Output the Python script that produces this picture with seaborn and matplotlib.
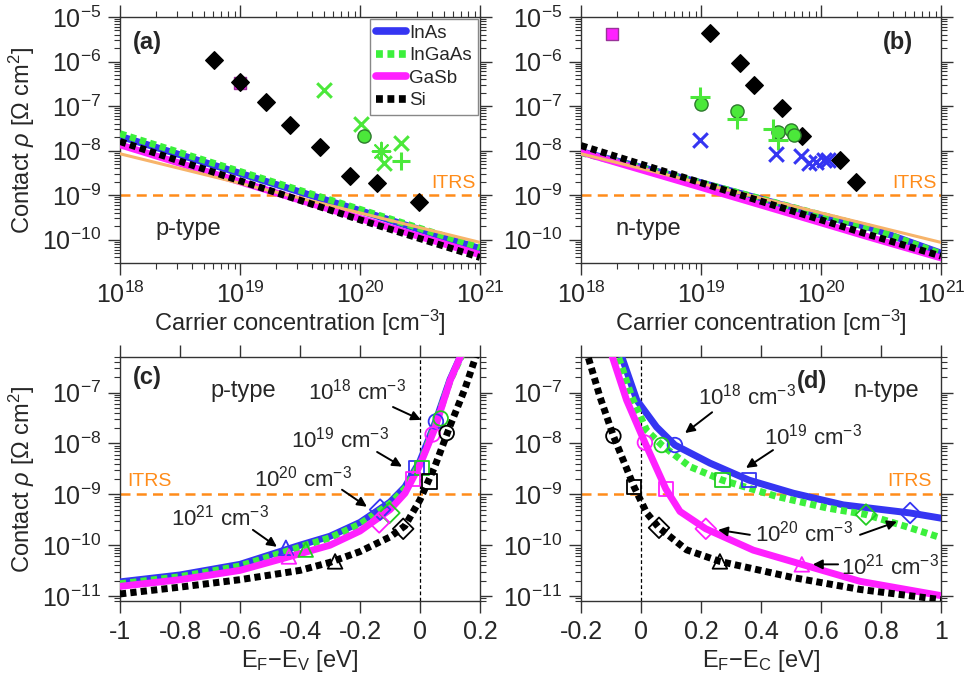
import numpy as np
import matplotlib
matplotlib.use("Agg")
import matplotlib.pyplot as plt
import matplotlib.ticker as mticker
from matplotlib.lines import Line2D
import seaborn as sns

# ---------------- data ----------------
# (a) p-type / (b) n-type : contact resistivity vs carrier concentration
conc = [1e18, 1e19, 1e20, 1e21]
a_inas = [2.1e-8, 3.1e-9, 4.5e-10, 6.3e-11]
a_ingaas = [2.4e-8, 3.4e-9, 4.8e-10, 6.7e-11]
a_gasb = [1.35e-8, 2.0e-9, 3.0e-10, 4.6e-11]
a_si = [1.6e-8, 2.1e-9, 2.8e-10, 4.0e-11]
ref_line = [8.5e-9, 1.85e-9, 4.0e-10, 8.7e-11]

conc_n = [1e18, 1e19, 1e20, 2.5e20, 1e21]
b_inas = [9.5e-9, 1.9e-9, 3.5e-10, 1.9e-10, 5.0e-11]
b_ingaas = [9.0e-9, 1.9e-9, 3.6e-10, 1.9e-10, 4.8e-11]
b_gasb = [9.3e-9, 1.5e-9, 2.4e-10, 1.15e-10, 3.9e-11]
b_si = [1.3e-8, 1.9e-9, 2.8e-10, 1.3e-10, 4.3e-11]

# experimental points (a)
a_si_x = [6.1e18, 1.0e19, 1.66e19, 2.6e19, 4.6e19, 8.2e19, 1.38e20, 3.1e20]
a_si_y = [1.1e-6, 3.5e-7, 1.25e-7, 3.7e-8, 1.2e-8, 2.7e-9, 1.9e-9, 7.0e-10]
a_gasb_x, a_gasb_y = [1.0e19], [3.3e-7]
a_ig_cross_x = [5e19, 1.02e20, 2.2e20, 1.6e20]
a_ig_cross_y = [2.3e-7, 4e-8, 1.45e-8, 5.2e-9]
a_ig_circ_x, a_ig_circ_y = [1.07e20], [2.1e-8]
a_ig_star_x, a_ig_star_y = [1.5e20], [1.0e-8]
a_ig_plus_x, a_ig_plus_y = [2.2e20], [5.7e-9]

# experimental points (b)
b_si_x = [1.18e19, 2.1e19, 2.75e19, 4.7e19, 7e19, 1.45e20, 1.95e20]
b_si_y = [4.3e-6, 9.5e-7, 2.9e-7, 8.9e-8, 2.1e-8, 6.3e-9, 1.95e-9]
b_gasb_x, b_gasb_y = [1.8e18], [4.1e-6]
b_ig_plus_x = [9.8e18, 2e19, 4e19, 4.4e19]
b_ig_plus_y = [1.6e-7, 5e-8, 3.1e-8, 1.7e-8]
b_ig_circ_x = [1e19, 2e19, 4.4e19, 5.6e19, 5.9e19]
b_ig_circ_y = [1.1e-7, 7.8e-8, 2.6e-8, 2.9e-8, 2.2e-8]
b_inas_cross_x = [9.8e18, 4.2e19, 6.8e19, 8e19, 9e19, 1.05e20, 1.15e20]
b_inas_cross_y = [1.7e-8, 8.5e-9, 7.5e-9, 5.2e-9, 5.5e-9, 6.3e-9, 6.3e-9]

# (c) p-type vs EF-EV
c_E = [-1.0, -0.8, -0.6, -0.4, -0.3, -0.2, -0.1, -0.05, 0.0, 0.05, 0.1, 0.14]
c_inas = [1.9e-11, 2.6e-11, 4.2e-11, 1.0e-10, 1.5e-10, 2.8e-10, 7.0e-10, 1.4e-9, 4.5e-9, 2.5e-8, 1.8e-7, 6e-7]
c_ingaas = [1.75e-11, 2.4e-11, 3.9e-11, 9.2e-11, 1.4e-10, 2.6e-10, 6.5e-10, 1.3e-9, 4.0e-9, 2.2e-8, 1.7e-7, 5.5e-7]
c_gasb = [1.55e-11, 2.1e-11, 3.2e-11, 6.8e-11, 1.0e-10, 1.9e-10, 5.0e-10, 1.05e-9, 3.8e-9, 2.0e-8, 1.7e-7, 6e-7]
c_E_si = [-1.0, -0.8, -0.6, -0.4, -0.3, -0.2, -0.1, -0.05, 0.0, 0.05, 0.1, 0.15, 0.19]
c_si = [1.1e-11, 1.5e-11, 2.1e-11, 3.2e-11, 4.6e-11, 7.5e-11, 1.45e-10, 2.4e-10, 7.8e-10, 3.6e-9, 2.2e-8, 1.2e-7, 6e-7]

# markers: 1e18 (o), 1e19 (s), 1e20 (D), 1e21 (^)
c_inas_mE, c_inas_mR = [0.053, -0.011, -0.133, -0.447], [2.7e-8, 3.3e-9, 5.0e-10, 8.9e-11]
c_ingaas_mE, c_ingaas_mR = [0.069, 0.006, -0.102, -0.381], [3.1e-8, 3.3e-9, 4.3e-10, 8.2e-11]
c_gasb_mE, c_gasb_mR = [0.042, -0.024, -0.136, -0.437], [1.5e-8, 2.0e-9, 2.8e-10, 6.0e-11]
c_si_mE, c_si_mR = [0.089, 0.031, -0.056, -0.283], [1.6e-8, 1.8e-9, 2.1e-10, 4.8e-11]

# (d) n-type vs EF-EC
d_inas_E = [-0.075, -0.014, 0.052, 0.113, 0.23, 0.36, 0.508, 0.674, 0.897, 1.0]
d_inas = [7.7e-7, 7.1e-8, 2.1e-8, 9.3e-9, 4.1e-9, 1.9e-9, 1.05e-9, 6.2e-10, 4.3e-10, 3.4e-10]
d_ingaas_E = [-0.085, -0.031, 0.019, 0.069, 0.163, 0.271, 0.452, 0.619, 0.75, 0.886, 1.0]
d_ingaas = [7.5e-7, 8.3e-8, 1.8e-8, 9.3e-9, 3.5e-9, 1.9e-9, 9.1e-10, 5.4e-10, 4.0e-10, 2.3e-10, 1.4e-10]
d_gasb_E = [-0.105, -0.048, 0.013, 0.083, 0.13, 0.216, 0.374, 0.536, 0.73, 1.0]
d_gasb = [7.5e-7, 7.1e-8, 1.04e-8, 1.27e-9, 4.6e-10, 2.1e-10, 8.0e-11, 4.2e-11, 1.95e-11, 1.02e-11]
d_si_E = [-0.185, -0.137, -0.092, -0.023, 0.019, 0.06, 0.152, 0.263, 0.508, 0.73, 1.0]
d_si = [7.5e-7, 8.3e-8, 1.4e-8, 1.4e-9, 4.3e-10, 2.2e-10, 8.1e-11, 4.8e-11, 2.3e-11, 1.35e-11, 8.5e-12]

d_inas_mE, d_inas_mR = [0.113, 0.36, 0.897], [9.3e-9, 1.9e-9, 4.3e-10]
d_ingaas_mE, d_ingaas_mR = [0.069, 0.271, 0.75], [9.3e-9, 1.9e-9, 4.0e-10]
d_gasb_mE, d_gasb_mR = [0.013, 0.083, 0.216, 0.536], [1.04e-8, 1.27e-9, 2.1e-10, 4.2e-11]
d_si_mE, d_si_mR = [-0.092, -0.023, 0.06, 0.263], [1.4e-8, 1.4e-9, 2.2e-10, 4.8e-11]

level_markers = ["o", "s", "D", "^"]
legend_labels = ["InAs", "InGaAs", "GaSb", "Si"]
top_xticks = [1e18, 1e19, 1e20, 1e21]
top_yticks = [1e-10, 1e-9, 1e-8, 1e-7, 1e-6, 1e-5]
bot_yticks = [1e-11, 1e-10, 1e-9, 1e-8, 1e-7]
c_xticks = [-1, -0.8, -0.6, -0.4, -0.2, 0, 0.2]
c_xlabels = ["-1", "-0.8", "-0.6", "-0.4", "-0.2", "0", "0.2"]
d_xticks = [-0.2, 0, 0.2, 0.4, 0.6, 0.8, 1]
d_xlabels = ["-0.2", "0", "0.2", "0.4", "0.6", "0.8", "1"]

# ---------------- style ----------------
BLUE = "#3535f2"
GREEN = "#3cf03c"
MAGENTA = "#ff20ff"
ITRS_C = "#ff8c1a"
LIGHT_OR = "#f7b46a"
EXP_GREEN = "#4be83a"
DOT = (0, (0.9, 0.6))

sns.set_style("ticks")
plt.rcParams["font.family"] = ["Liberation Sans", "DejaVu Sans"]
plt.rcParams["mathtext.fontset"] = "custom"
plt.rcParams["mathtext.rm"] = "Liberation Sans"
plt.rcParams["mathtext.it"] = "Liberation Sans:italic"
plt.rcParams["mathtext.bf"] = "Liberation Sans:bold"
plt.rcParams["mathtext.default"] = "regular"


def curve(ax, x, y, color, dotted=False, lw=5.0, z=3):
    sns.lineplot(x=x, y=y, ax=ax, color=color, linewidth=lw,
                 linestyle=DOT if dotted else "-", sort=False,
                 estimator=None, legend=False, zorder=z)


def points(ax, x, y, marker, color, s=70, lw=1.0, edge=None, z=6):
    if marker in ("x", "+", (8, 2, 0)):
        sns.scatterplot(x=x, y=y, ax=ax, marker=marker, color=color, s=s,
                        linewidth=lw, legend=False, zorder=z)
    else:
        sns.scatterplot(x=x, y=y, ax=ax, marker=marker, facecolor=color,
                        edgecolor=edge or color, s=s, linewidth=lw,
                        legend=False, zorder=z)


def open_marks(ax, E, R, color):
    for e, r, m in zip(E, R, level_markers):
        sns.scatterplot(x=[e], y=[r], ax=ax, marker=m, facecolor="none",
                        edgecolor=color, s=110, linewidth=1.3,
                        legend=False, zorder=6)


def frame(ax, yticks):
    for sp in ax.spines.values():
        sp.set_linewidth(1.0)
        sp.set_color("#333333")
    ax.tick_params(which="both", direction="out", top=True, right=True,
                   labeltop=False, labelright=False, color="#333333")
    ax.tick_params(which="major", length=8.5, width=1.0, pad=5, labelsize=18)
    ax.tick_params(which="minor", length=4.5, width=0.8)
    ax.yaxis.set_major_locator(mticker.FixedLocator(yticks))
    ax.yaxis.set_major_formatter(mticker.LogFormatterSciNotation())
    ax.yaxis.set_minor_locator(mticker.LogLocator(base=10, subs=np.arange(2, 10), numticks=100))
    ax.yaxis.set_minor_formatter(mticker.NullFormatter())


fig = plt.figure(figsize=(9.66, 6.85), dpi=100)
W, H = 966, 685
ax_a = fig.add_axes([120 / W, 1 - 263 / H, 360 / W, 246 / H])
ax_b = fig.add_axes([581 / W, 1 - 263 / H, 360 / W, 246 / H])
ax_c = fig.add_axes([120 / W, 1 - 601 / H, 360 / W, 244 / H])
ax_d = fig.add_axes([581 / W, 1 - 601 / H, 360 / W, 244 / H])

ylab = "Contact $\\mathit{\\rho}$ [Ω cm$^{2}$]"

# ---------------- (a) and (b) ----------------
for ax in (ax_a, ax_b):
    ax.set_xscale("log")
    ax.set_yscale("log")
    ax.set_xlim(1e18, 1e21)
    ax.set_ylim(3e-11, 1e-5)
    ax.axhline(1e-9, color=ITRS_C, lw=1.8, ls=(0, (4, 2.5)), zorder=1)
    ax.text(0.925, 0.325, "ITRS", color=ITRS_C, fontsize=14,
            ha="center", va="center", transform=ax.transAxes)

curve(ax_a, conc, a_inas, BLUE)
curve(ax_a, conc, a_ingaas, GREEN, dotted=True)
curve(ax_a, conc, a_gasb, MAGENTA)
curve(ax_a, conc, ref_line, LIGHT_OR, lw=2.2)
curve(ax_a, conc, a_si, "black", dotted=True)

points(ax_a, a_gasb_x, a_gasb_y, "s", MAGENTA, s=70, edge="#993399")
points(ax_a, a_si_x, a_si_y, "D", "black", s=80)
points(ax_a, a_ig_cross_x, a_ig_cross_y, "x", EXP_GREEN, s=110, lw=2.2)
points(ax_a, a_ig_circ_x, a_ig_circ_y, "o", EXP_GREEN, s=90, edge="#2d7a2d")
points(ax_a, a_ig_star_x, a_ig_star_y, (8, 2, 0), EXP_GREEN, s=160, lw=1.5)
points(ax_a, a_ig_plus_x, a_ig_plus_y, "+", EXP_GREEN, s=160, lw=2.2)

curve(ax_b, conc_n, b_inas, BLUE)
curve(ax_b, conc_n, b_ingaas, GREEN, dotted=True)
curve(ax_b, conc_n, b_gasb, MAGENTA)
curve(ax_b, conc, ref_line, LIGHT_OR, lw=2.2)
curve(ax_b, conc_n, b_si, "black", dotted=True)

points(ax_b, b_gasb_x, b_gasb_y, "s", MAGENTA, s=70, edge="#993399")
points(ax_b, b_si_x, b_si_y, "D", "black", s=80)
points(ax_b, b_ig_circ_x, b_ig_circ_y, "o", EXP_GREEN, s=90, edge="#2d7a2d")
points(ax_b, b_ig_plus_x, b_ig_plus_y, "+", EXP_GREEN, s=200, lw=2.2)
points(ax_b, b_inas_cross_x, b_inas_cross_y, "x", BLUE, s=110, lw=2.2)

for ax in (ax_a, ax_b):
    ax.xaxis.set_major_locator(mticker.FixedLocator(top_xticks))
    ax.xaxis.set_major_formatter(mticker.LogFormatterSciNotation())
    ax.xaxis.set_minor_locator(mticker.LogLocator(base=10, subs=np.arange(2, 10), numticks=100))
    ax.xaxis.set_minor_formatter(mticker.NullFormatter())
    ax.set_xlabel("Carrier concentration [cm$^{-3}$]", fontsize=17, labelpad=0)
    frame(ax, top_yticks)

ax_a.set_ylabel(ylab, fontsize=17, labelpad=4)
ax_b.set_ylabel("")
ax_a.text(0.075, 0.898, "(a)", fontsize=17, fontweight="bold",
          ha="center", va="center", transform=ax_a.transAxes)
ax_a.text(0.19, 0.138, "p-type", fontsize=17, ha="center", va="center",
          transform=ax_a.transAxes)
ax_b.text(0.88, 0.898, "(b)", fontsize=17, fontweight="bold",
          ha="center", va="center", transform=ax_b.transAxes)
ax_b.text(0.186, 0.138, "n-type", fontsize=17, ha="center", va="center",
          transform=ax_b.transAxes)

handles = [Line2D([], [], color=BLUE, lw=5.5),
           Line2D([], [], color=GREEN, lw=5.5, ls=DOT),
           Line2D([], [], color=MAGENTA, lw=5.5),
           Line2D([], [], color="black", lw=5.5, ls=DOT)]
leg = ax_a.legend(handles, legend_labels, loc="upper right", fontsize=13.5,
                  frameon=True, fancybox=False, edgecolor="#888888",
                  framealpha=1, handlelength=1.6, handletextpad=0.2,
                  labelspacing=0.28, borderaxespad=0.12, borderpad=0.3)
leg.get_frame().set_linewidth(1.0)

# ---------------- (c) and (d) ----------------
for ax, lim in ((ax_c, (-1, 0.2)), (ax_d, (-0.2, 1))):
    ax.set_yscale("log")
    ax.set_xlim(*lim)
    ax.set_ylim(8e-12, 5e-7)
    ax.axhline(1e-9, color=ITRS_C, lw=1.8, ls=(0, (4, 2.5)), zorder=1)
    ax.axvline(0, color="black", lw=0.9, ls=(0, (3, 2)), zorder=1)

curve(ax_c, c_E, c_inas, BLUE)
curve(ax_c, c_E, c_ingaas, GREEN, dotted=True)
curve(ax_c, c_E, c_gasb, MAGENTA)
curve(ax_c, c_E_si, c_si, "black", dotted=True)
open_marks(ax_c, c_inas_mE, c_inas_mR, BLUE)
open_marks(ax_c, c_ingaas_mE, c_ingaas_mR, "#22cc22")
open_marks(ax_c, c_gasb_mE, c_gasb_mR, MAGENTA)
open_marks(ax_c, c_si_mE, c_si_mR, "black")

curve(ax_d, d_inas_E, d_inas, BLUE)
curve(ax_d, d_ingaas_E, d_ingaas, GREEN, dotted=True)
curve(ax_d, d_gasb_E, d_gasb, MAGENTA)
curve(ax_d, d_si_E, d_si, "black", dotted=True)
open_marks(ax_d, d_inas_mE, d_inas_mR, BLUE)
open_marks(ax_d, d_ingaas_mE, d_ingaas_mR, "#22cc22")
open_marks(ax_d, d_gasb_mE, d_gasb_mR, MAGENTA)
open_marks(ax_d, d_si_mE, d_si_mR, "black")

for ax, ticks, labels in ((ax_c, c_xticks, c_xlabels), (ax_d, d_xticks, d_xlabels)):
    ax.set_xticks(ticks)
    ax.set_xticklabels(labels)
    ax.set_xlabel("")
    frame(ax, bot_yticks)

# bottom x labels placed directly so the subscripts stay inside the figure
fig.text(300 / W, 1 - 661 / H, "E$_\\mathrm{F}$−E$_\\mathrm{V}$ [eV]",
         fontsize=17, ha="center", va="center")
fig.text(761 / W, 1 - 661 / H, "E$_\\mathrm{F}$−E$_\\mathrm{C}$ [eV]",
         fontsize=17, ha="center", va="center")

ax_d.set_ylabel("")
ax_c.set_ylabel(ylab, fontsize=17, labelpad=4)
ax_c.text(0.075, 0.914, "(c)", fontsize=17, fontweight="bold",
          ha="center", va="center", transform=ax_c.transAxes)
ax_c.text(0.342, 0.861, "p-type", fontsize=17, ha="center", va="center",
          transform=ax_c.transAxes)
ax_c.text(0.083, 0.49, "ITRS", color=ITRS_C, fontsize=14, ha="center",
          va="center", transform=ax_c.transAxes)
ax_d.text(0.642, 0.90, "(d)", fontsize=17, fontweight="bold",
          ha="center", va="center", transform=ax_d.transAxes)
ax_d.text(0.847, 0.861, "n-type", fontsize=17, ha="center", va="center",
          transform=ax_d.transAxes)
ax_d.text(0.911, 0.49, "ITRS", color=ITRS_C, fontsize=14, ha="center",
          va="center", transform=ax_d.transAxes)

arrow = dict(arrowstyle="-|>", color="black", lw=1.4, mutation_scale=14,
             shrinkA=0, shrinkB=0)


def note(ax, txt, pos, arrows):
    ax.text(pos[0], pos[1], txt, fontsize=16, ha="center", va="center")
    for start, tip in arrows:
        ax.annotate("", xy=tip, xytext=start, arrowprops=arrow)


note(ax_c, "10$^{18}$ cm$^{-3}$", (-0.21, 1.07e-7), [((-0.09, 5.2e-8), (0.003, 2.9e-8))])
note(ax_c, "10$^{19}$ cm$^{-3}$", (-0.267, 1.17e-8), [((-0.143, 6.8e-9), (-0.06, 3.5e-9))])
note(ax_c, "10$^{20}$ cm$^{-3}$", (-0.39, 2.0e-9), [((-0.26, 1.23e-9), (-0.177, 5.7e-10))])
note(ax_c, "10$^{21}$ cm$^{-3}$", (-0.667, 3.5e-10), [((-0.557, 2.0e-10), (-0.477, 9.3e-11))])

note(ax_d, "10$^{18}$ cm$^{-3}$", (0.353, 8.2e-8), [((0.237, 4.1e-8), (0.147, 1.6e-8))])
note(ax_d, "10$^{19}$ cm$^{-3}$", (0.573, 1.34e-8), [((0.44, 7.4e-9), (0.35, 3.3e-9))])
note(ax_d, "10$^{20}$ cm$^{-3}$", (0.543, 1.7e-10), [((0.363, 1.6e-10), (0.257, 2.0e-10)),
                                                    ((0.73, 1.6e-10), (0.853, 2.9e-10))])
note(ax_d, "10$^{21}$ cm$^{-3}$", (0.83, 3.8e-11), [((0.657, 4.2e-11), (0.573, 4.2e-11))])

fig.savefig("out.png", dpi=100)
